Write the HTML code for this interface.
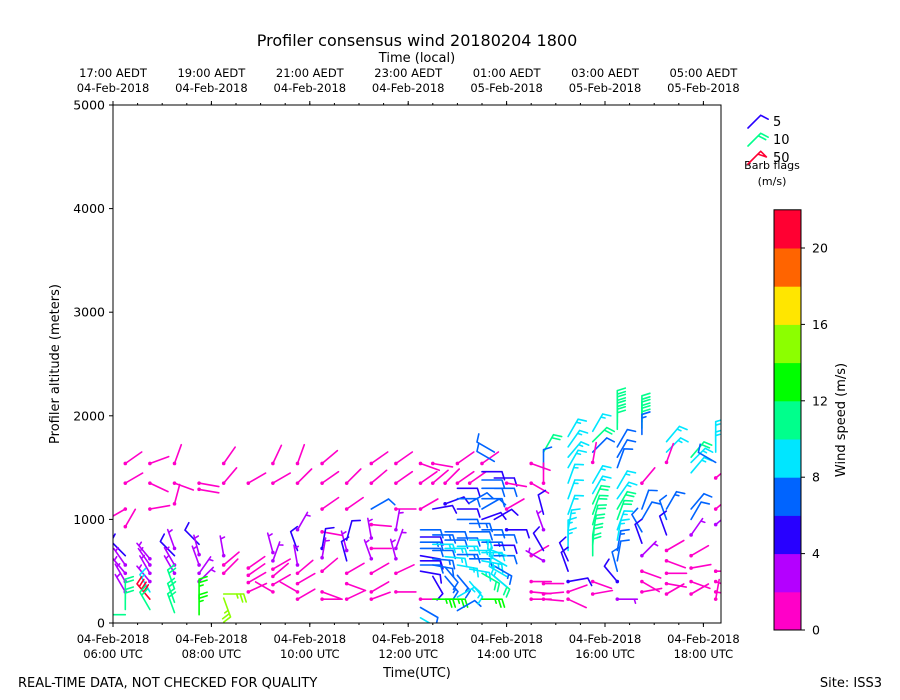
<!DOCTYPE html>
<html><head><meta charset="utf-8">
<style>
body{margin:0;background:#fff;}
svg{display:block;font-family:"DejaVu Sans","Liberation Sans",sans-serif;}
</style></head>
<body>
<svg id="chart" width="900" height="700" viewBox="0 0 900 700" xmlns="http://www.w3.org/2000/svg">
<rect width="900" height="700" fill="#fff"/>
<text x="417" y="46" font-size="16" text-anchor="middle">Profiler consensus wind 20180204 1800</text>
<text x="417" y="62" font-size="13" text-anchor="middle">Time (local)</text>
<text x="417" y="677" font-size="13" text-anchor="middle">Time(UTC)</text>
<text transform="translate(59,364) rotate(-90)" font-size="13" text-anchor="middle">Profiler altitude (meters)</text>
<text x="18" y="687" font-size="13">REAL-TIME DATA, NOT CHECKED FOR QUALITY</text>
<text x="882" y="687" font-size="13" text-anchor="end">Site: ISS3</text>
<defs><clipPath id="plotclip"><rect x="113" y="105" width="608" height="518"/></clipPath></defs>
<g id="barbs" clip-path="url(#plotclip)"></g>
<g id="axes"></g>
<rect x="113" y="105" width="608" height="518" fill="none" stroke="#000" stroke-width="1"/>
<g id="colorbar"></g>
<text transform="translate(845,420) rotate(-90)" font-size="13" text-anchor="middle">Wind speed (m/s)</text>
<g id="legend">
 <text x="773" y="126" font-size="13">5</text>
 <text x="773" y="144" font-size="13">10</text>
 <text x="773" y="162" font-size="13">50</text>
 <text x="772" y="169" font-size="11" text-anchor="middle">Barb flags</text>
 <text x="772" y="185" font-size="11" text-anchor="middle">(m/s)</text>
</g>
</svg>
<script>
const colTimes=[6.25,6.75,7.25,7.75,8.25,8.75,9.25,9.75,10.25,10.75,11.25,11.75,12.25,12.5,12.75,13.0,13.25,13.5,13.75,14.0,14.5,14.75,15.25,15.75,16.25,16.75,17.25,17.75,18.25];
const colHeights=[
[1540,1350,1100,930,650,560,480,400,300,230,130,80],
[1540,1350,1100,620,560,480,400,300,230,130],
[1540,1350,1150,720,650,560,480,330,200,100],
[1350,1290,760,660,560,480,400,230,80],
[1540,1350,650,560,480,280,240],
[1350,530,460,390,300],
[1540,1350,680,600,520,450,370,300],
[1540,1350,900,700,560,480,380,300,230],
[1540,1350,1100,880,720,630,500,300,230],
[1350,1100,800,700,600,480,380,230],
[1540,1350,1100,950,820,720,620,480,300,230],
[1540,1350,1100,900,720,620,480,300],
[1540,1350,1100,900,830,780,720,650,600,560,500,230,150,50],
[1540,1350,1100,850,760,700,620,560,450,230],
[1350,1150,880,800,720,640,540,450,230],
[1540,1350,1300,1200,1100,1000,820,740,660,560,460,250,120],
[1350,1160,960,880,800,700,620,520,400],
[1540,1460,1380,1300,1200,1100,1000,900,780,680,600,480,230],
[1650,1560,1400,1300,1000,850,750,650,550,450],
[1350,1100,900,650,550,450,350],
[1540,1350,650,400,300,230],
[1650,1480,1350,1050,900,700,600,380,280,230],
[1800,1700,1600,1500,1350,1200,1050,900,800,700,600,500,400,300,230],
[1850,1750,1650,1550,1350,1250,1150,1050,950,850,750,650,400,280],
[2050,1990,1930,1870,1700,1600,1500,1300,1200,1100,1000,900,800,700,600,500,400,230],
[2000,1940,1880,1820,1350,1100,1000,880,770,650,500,400,300],
[1750,1650,1550,1100,1000,850,700,600,480,380,280],
[1600,1550,1450,1100,1000,850,650,530,400,280],
[1750,1650,1550,1400,1100,950,500,400,300,230]];
const colSpeeds=[
[1,1,1,1,5,3,3,3,3,11,11,11],
[1,1,1,3,3,3,3,9,21,11],
[1,1,1,3,5,3,3,11,11,11],
[1,1,5,3,3,3,3,12,12],
[1,1,3,1,1,14,14],
[1,1,1,1,1],
[1,1,3,3,1,1,1,1],
[1,1,3,5,3,1,1,1,1],
[1,1,1,1,4,3,1,1,1],
[1,1,5,3,5,1,1,1],
[1,1,6,1,3,1,3,1,1,1],
[1,1,1,3,3,3,1,1],
[1,1,1,6,5,7,6,5,5,6,5,1,6,8],
[1,1,5,7,8,6,7,6,5,12],
[1,4,6,6,8,8,6,7,12],
[1,1,5,6,5,6,6,8,7,8,7,8,6],
[1,6,7,6,8,9,6,8,8],
[1,5,6,6,6,6,5,6,7,9,8,10,12],
[6,6,5,6,5,6,5,6,7,10],
[1,1,4,8,9,9,9],
[1,1,1,1,1,1],
[10,6,1,5,3,5,2,1,1,1],
[9,9,8,9,8,9,9,9,9,8,5,5,4,1,1],
[9,10,6,1,8,9,10,10,11,11,11,11,1,1],
[11,11,11,11,6,6,6,9,9,10,10,9,8,7,6,6,4,3],
[11,11,11,7,1,6,6,6,5,3,1,1,1],
[9,9,1,7,6,5,1,1,1,1,1],
[10,9,9,6,6,3,1,1,1,1],
[9,9,6,1,1,3,1,1,1,1]];
const colDirs=[
[55,60,240,30,315,325,320,330,330,0,0,270],
[70,115,80,320,325,330,320,330,320,330],
[20,110,15,340,315,330,330,340,340,340],
[100,100,315,345,340,35,45,0,0],
[35,40,350,50,45,90,160],
[60,55,55,60,65],
[25,60,345,20,60,50,60,300],
[20,45,30,340,350,50,60,300,60],
[50,55,55,100,10,10,50,110,90],
[45,55,15,345,345,60,110,65],
[55,50,60,95,350,90,340,60,60,70],
[55,55,90,10,20,345,65,90],
[110,55,60,90,90,90,90,100,90,90,100,90,120,120],
[100,50,80,90,90,90,95,100,150,90],
[45,70,90,90,90,95,140,140,90],
[55,55,90,90,90,90,90,90,90,100,140,60,60],
[55,60,90,90,90,90,90,100,140],
[55,90,90,90,90,60,70,90,90,90,100,120,90],
[300,300,90,90,60,90,90,90,120,130],
[100,60,90,290,300,300,310],
[110,120,60,90,95,90],
[30,0,0,345,340,330,300,90,85,95],
[30,35,40,30,20,20,20,10,0,0,335,340,80,70,115],
[30,45,45,10,30,30,25,20,15,10,5,0,110,80],
[0,0,0,0,30,30,20,30,35,30,20,20,10,10,10,345,320,90],
[0,0,0,0,40,20,30,330,340,45,110,120,80],
[40,45,20,30,340,340,60,110,90,100,60],
[40,45,40,40,30,35,60,80,110,60],
[0,0,300,50,50,50,90,110,100,10]];
const cbTicks=[0,4,8,12,16,20];
const cbColors=['#ff00c8','#b400ff','#2800ff','#0064ff','#00e6ff','#00ff8c','#00ff00','#8cff00','#ffe600','#ff6400','#ff0032'];
const yTicks=[0,1000,2000,3000,4000,5000];
const utcTicks=[6,8,10,12,14,16,18];
const utcLabels=[['04-Feb-2018','06:00 UTC'],['04-Feb-2018','08:00 UTC'],['04-Feb-2018','10:00 UTC'],['04-Feb-2018','12:00 UTC'],['04-Feb-2018','14:00 UTC'],['04-Feb-2018','16:00 UTC'],['04-Feb-2018','18:00 UTC']];
const localLabels=[['17:00 AEDT','04-Feb-2018'],['19:00 AEDT','04-Feb-2018'],['21:00 AEDT','04-Feb-2018'],['23:00 AEDT','04-Feb-2018'],['01:00 AEDT','05-Feb-2018'],['03:00 AEDT','05-Feb-2018'],['05:00 AEDT','05-Feb-2018']];

const NS='http://www.w3.org/2000/svg';
const xS=t=>113+(t-6)*49.2;
const yS=h=>623-h*0.1036;
const cbY=v=>630-v*19.1;
function colorFor(s){return cbColors[Math.max(0,Math.min(10,Math.floor(s/2)))];}
function mk(tag,attrs,parent){const e=document.createElementNS(NS,tag);for(const k in attrs)e.setAttribute(k,attrs[k]);parent.appendChild(e);return e;}

const gB=document.getElementById('barbs');
function drawBarb(px,py,spd,dir,col,parent,L){
  const a=dir*Math.PI/180, dx=Math.sin(a), dy=-Math.cos(a);
  const tx=px+dx*L, ty=py+dy*L;
  let d='M'+px.toFixed(1)+' '+py.toFixed(1)+'L'+tx.toFixed(1)+' '+ty.toFixed(1);
  const px2=-dy, py2=dx;
  let kt=Math.round(spd*1.94/5)*5;
  let pos=0;
  while(kt>=50){const b1x=tx-dx*pos,b1y=ty-dy*pos;d+='M'+b1x+' '+b1y+'L'+(b1x+px2*8)+' '+(b1y+py2*8)+'L'+(b1x-dx*4)+' '+(b1y-dy*4);kt-=50;pos+=5;}
  while(kt>=10){const bx=tx-dx*pos,by=ty-dy*pos;d+='M'+bx+' '+by+'L'+(bx+px2*8+dx*2.5)+' '+(by+py2*8+dy*2.5);kt-=10;pos+=3.5;}
  if(kt>=5){if(pos===0)pos=3;const bx=tx-dx*pos,by=ty-dy*pos;d+='M'+bx+' '+by+'L'+(bx+px2*4+dx*1.2)+' '+(by+py2*4+dy*1.2);}
  const p=mk('path',{d:d,stroke:col,'stroke-width':1.6,fill:'none','stroke-linecap':'round','stroke-linejoin':'round'},parent);
  return p;
}
for(let i=0;i<colTimes.length;i++){
  for(let j=0;j<colHeights[i].length;j++){
    const x=xS(colTimes[i]), y=yS(colHeights[i][j]), s=colSpeeds[i][j], c=colorFor(s);
    const p=drawBarb(x,y,s,colDirs[i][j],c,gB,20);
    
    
    if(s<5){const dot=mk('circle',{cx:x,cy:y,r:1.8,fill:c},gB);
      
      }
  }
}
const gA=document.getElementById('axes');
yTicks.forEach(v=>{
  const y=yS(v);
  mk('line',{x1:109,x2:113,y1:y,y2:y,stroke:'#000'},gA);
  const t=mk('text',{x:105,y:y+4.5,'font-size':12.5,'text-anchor':'end'},gA);t.textContent=v;
  
  
});
for(let m=6.5;m<18.5;m+=0.5){const x=xS(m);
  mk('line',{x1:x,x2:x,y1:623,y2:625,stroke:'#000'},gA);
  mk('line',{x1:x,x2:x,y1:105,y2:103,stroke:'#000'},gA);}
utcTicks.forEach((t,i)=>{
  const x=xS(t);
  mk('line',{x1:x,x2:x,y1:623,y2:627,stroke:'#000'},gA);
  mk('line',{x1:x,x2:x,y1:105,y2:101,stroke:'#000'},gA);
  const a=mk('text',{x:x,y:643,'font-size':11.5,'text-anchor':'middle'},gA);a.textContent=utcLabels[i][0];
  
  
  const b=mk('text',{x:x,y:658,'font-size':11.5,'text-anchor':'middle'},gA);b.textContent=utcLabels[i][1];
  
  
  const c=mk('text',{x:x,y:77,'font-size':11.5,'text-anchor':'middle'},gA);c.textContent=localLabels[i][0];
  
  
  const d=mk('text',{x:x,y:92,'font-size':11.5,'text-anchor':'middle'},gA);d.textContent=localLabels[i][1];
  
  
});
const gC=document.getElementById('colorbar');
cbColors.forEach((c,i)=>{
  const r=mk('rect',{x:774,y:cbY((i+1)*2),width:27,height:cbY(i*2)-cbY((i+1)*2)+0.5,fill:c},gC);
  
  
});
mk('rect',{x:774,y:cbY(22),width:27,height:cbY(0)-cbY(22),fill:'none',stroke:'#000'},gC);
cbTicks.forEach(v=>{
  const y=cbY(v);
  mk('line',{x1:801,x2:805,y1:y,y2:y,stroke:'#000'},gC);
  const t=mk('text',{x:812,y:y+4.5,'font-size':12.5},gC);t.textContent=v;
  
  
});
const gL=document.getElementById('legend');
drawBarb(748,128,5,45,'#2800ff',gL,18);
drawBarb(748,146,10,45,'#00ff8c',gL,18);
drawBarb(748,164,26,45,'#ff0032',gL,18);
</script>
</body></html>
